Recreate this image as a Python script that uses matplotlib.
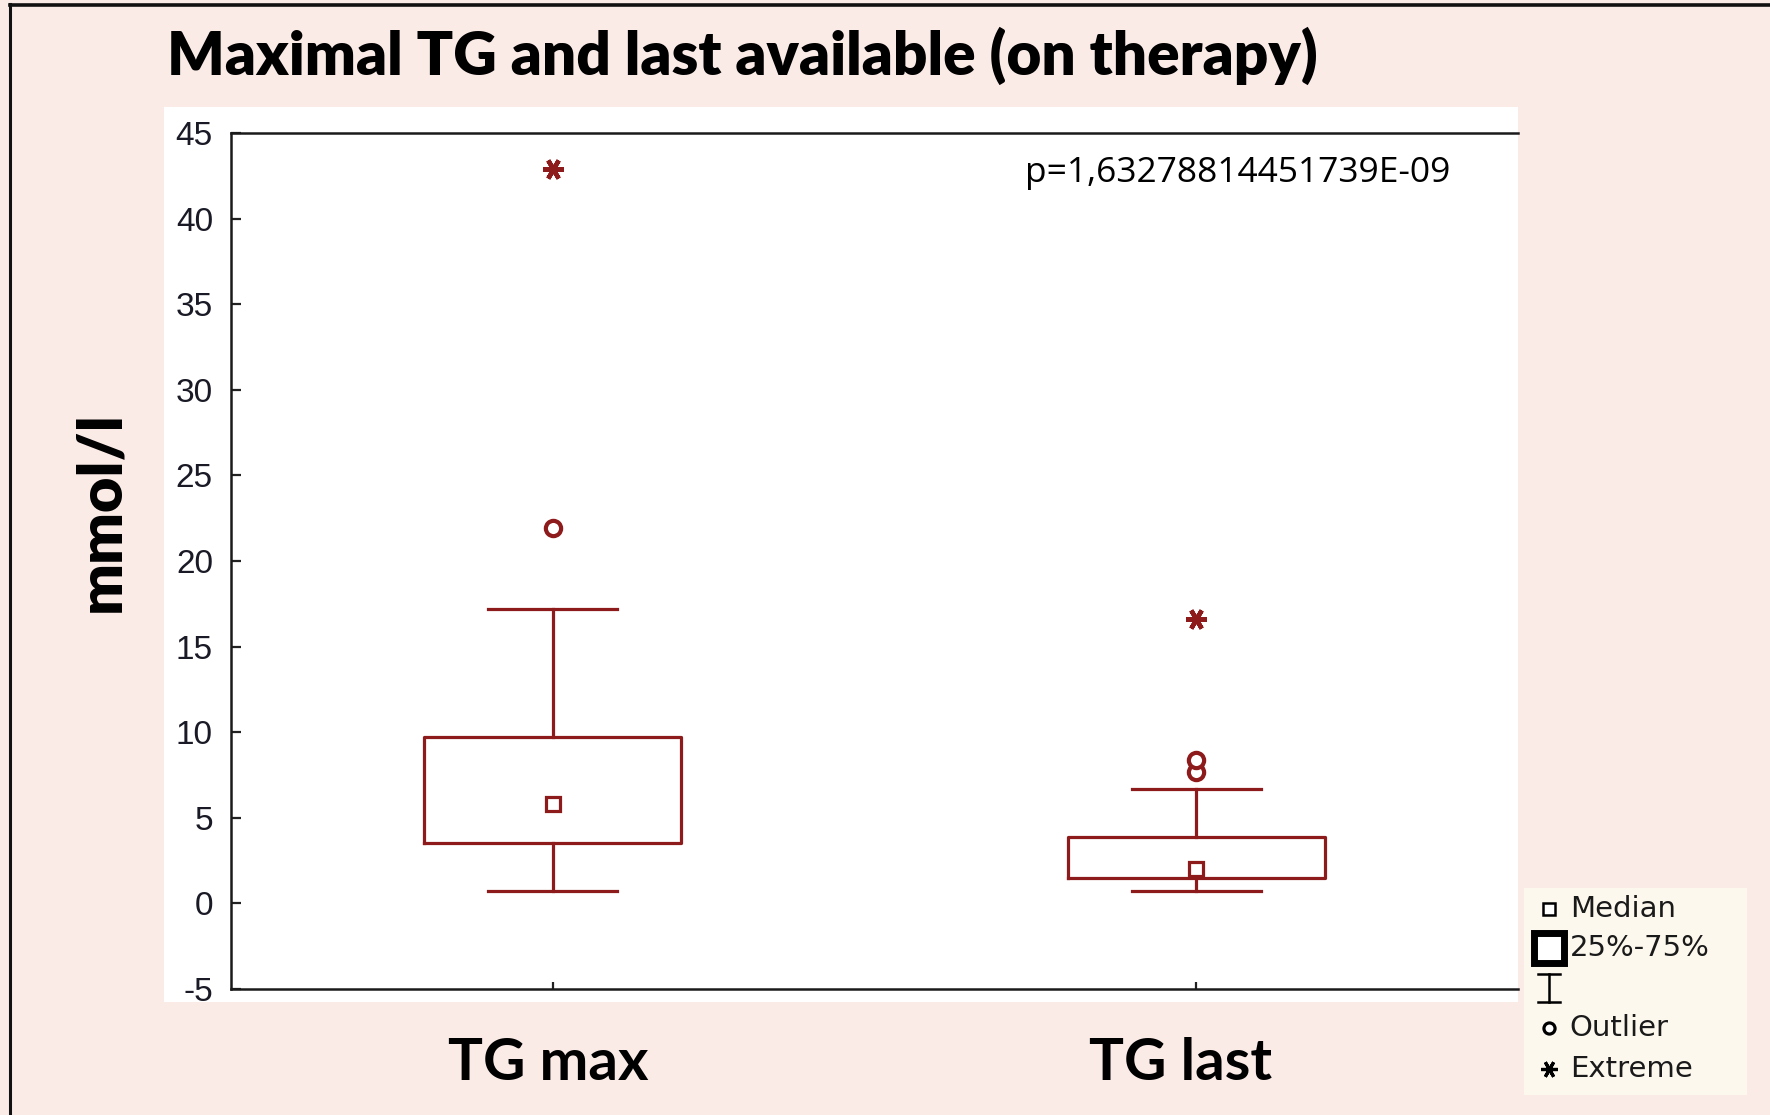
import matplotlib
matplotlib.use("Agg")
import matplotlib.pyplot as plt
from matplotlib.patches import Rectangle
import numpy as np

# ---- data ----
categories = ["TG max", "TG last"]
medians = [5.8, 2.0]
q1 = [3.5, 1.5]
q3 = [9.7, 3.85]
whisker_low = [0.7, 0.7]
whisker_high = [17.2, 6.7]
outliers = [[21.9], [7.7, 8.4]]
extremes = [[42.9], [16.6]]
y_ticks = [-5, 0, 5, 10, 15, 20, 25, 30, 35, 40, 45]
p_text = "p=1,63278814451739E-09"
title = "Maximal TG and last available (on therapy)"
y_label = "mmol/l"
legend_labels = ["Median", "25%-75%", "", "Outlier", "Extreme"]

BG = "#FAEBE7"
RED = "#8E1B1B"
W, H = 1770, 1115

fig = plt.figure(figsize=(W / 100, H / 100), dpi=100, facecolor=BG)

# outer frame lines (top and left)
fig.add_artist(plt.Line2D([9.5 / W, 9.5 / W], [0, 1 - 4 / H], color="#111111", lw=2.2,
                          transform=fig.transFigure))
fig.add_artist(plt.Line2D([9.5 / W, 1], [1 - 5 / H, 1 - 5 / H], color="#111111", lw=2.6,
                          transform=fig.transFigure))

# white plot panel
fig.add_artist(Rectangle((164 / W, 1 - 1002 / H), (1518 - 164) / W, (1002 - 107) / H,
                         transform=fig.transFigure, facecolor="white", edgecolor="none",
                         zorder=0))

ax = fig.add_axes([231 / W, 1 - 989 / H, (1518 - 231) / W, (989 - 133) / H])
ax.set_facecolor("white")

positions = np.arange(len(categories))
stats = []
for i in range(len(categories)):
    stats.append(dict(med=medians[i], q1=q1[i], q3=q3[i], whislo=whisker_low[i],
                      whishi=whisker_high[i], fliers=outliers[i], label=categories[i]))

ax.bxp(stats, positions=positions, widths=0.4, showfliers=True,
       boxprops=dict(color=RED, linewidth=2.3),
       whiskerprops=dict(color=RED, linewidth=2.3),
       capprops=dict(color=RED, linewidth=2.3),
       medianprops=dict(linewidth=0),
       flierprops=dict(marker="o", markerfacecolor="white", markeredgecolor=RED,
                       markersize=11, markeredgewidth=3),
       capwidths=0.2)

ax.plot(positions, medians, linestyle="none", marker="s", markersize=10,
        markerfacecolor="white", markeredgecolor=RED, markeredgewidth=2.3, zorder=5)

for i, ex in enumerate(extremes):
    ax.plot([positions[i]] * len(ex), ex, linestyle="none", marker=(6, 2, 90),
            markersize=15, markeredgecolor=RED, markeredgewidth=3.2, zorder=5)

ax.set_xlim(-0.5, 1.5)
ax.set_ylim(-5, 45)
ax.set_yticks(y_ticks)
ax.set_yticklabels([str(t) for t in y_ticks], fontfamily="Liberation Sans",
                   fontsize=24, color="#1a1a26")
ax.set_xticks(positions)
ax.set_xticklabels([""] * len(categories))
x_shift_px = [-4, -16]
for pos, cat, dx in zip(positions, categories, x_shift_px):
    ax.annotate(cat, xy=(pos, 0), xycoords=("data", "axes fraction"),
                xytext=(dx, -74), textcoords="offset pixels",
                fontfamily="Lato", fontweight="bold", fontsize=42, color="black",
                ha="center", va="center", annotation_clip=False)
ax.tick_params(axis="y", direction="in", length=7, width=1.6, pad=13, color="#222222")
ax.tick_params(axis="x", direction="in", length=5, width=1.6, color="#222222")

for side in ["left", "top", "bottom"]:
    ax.spines[side].set_color("#1a1a1a")
    ax.spines[side].set_linewidth(1.8)
ax.spines["right"].set_visible(False)

ax.text(0.617, 0.953, p_text, transform=ax.transAxes, fontfamily="Open Sans",
        fontsize=25.5, color="black", ha="left", va="center")

fig.text(167 / W, 1 - 56 / H, title, fontfamily="Lato", fontweight="heavy", fontsize=43.4,
         ha="left", va="center", color="black")
fig.text(101 / W, 1 - 512 / H, y_label, fontfamily="Lato", fontweight="heavy", fontsize=44,
         rotation=90, ha="center", va="center", color="black")

# legend panel
lax = fig.add_axes([1524 / W, 1 - 1095 / H, (1747 - 1524) / W, (1095 - 888) / H])
lax.set_facecolor("#FDF8EE")
lax.set_xlim(0, 1)
lax.set_ylim(0, 1)
lax.set_xticks([])
lax.set_yticks([])
for s in lax.spines.values():
    s.set_visible(False)
ys = [0.899, 0.710, 0.517, 0.324, 0.126]
mx = 0.112
lax.plot([mx], [ys[0]], marker="s", markersize=9, markerfacecolor="white",
         markeredgecolor="black", markeredgewidth=1.8)
lax.plot([mx], [ys[1]], marker="s", markersize=21, markerfacecolor="white",
         markeredgecolor="black", markeredgewidth=5)
lax.plot([mx, mx], [ys[2] - 0.068, ys[2] + 0.068], color="black", lw=1.8)
lax.plot([mx - 0.05, mx + 0.05], [ys[2] + 0.068] * 2, color="black", lw=1.8)
lax.plot([mx - 0.05, mx + 0.05], [ys[2] - 0.068] * 2, color="black", lw=1.8)
lax.plot([mx], [ys[3]], marker="o", markersize=8, markerfacecolor="white",
         markeredgecolor="black", markeredgewidth=2.3)
lax.plot([mx], [ys[4]], marker=(6, 2, 90), markersize=12, markeredgecolor="black",
         markeredgewidth=2.3)
for y, lab in zip(ys, legend_labels):
    if lab:
        lax.text(0.205, y, lab, fontfamily="DejaVu Sans", fontsize=21, color="#1a1a1a",
                 ha="left", va="center")

fig.savefig("out.png", dpi=100, facecolor=BG)
